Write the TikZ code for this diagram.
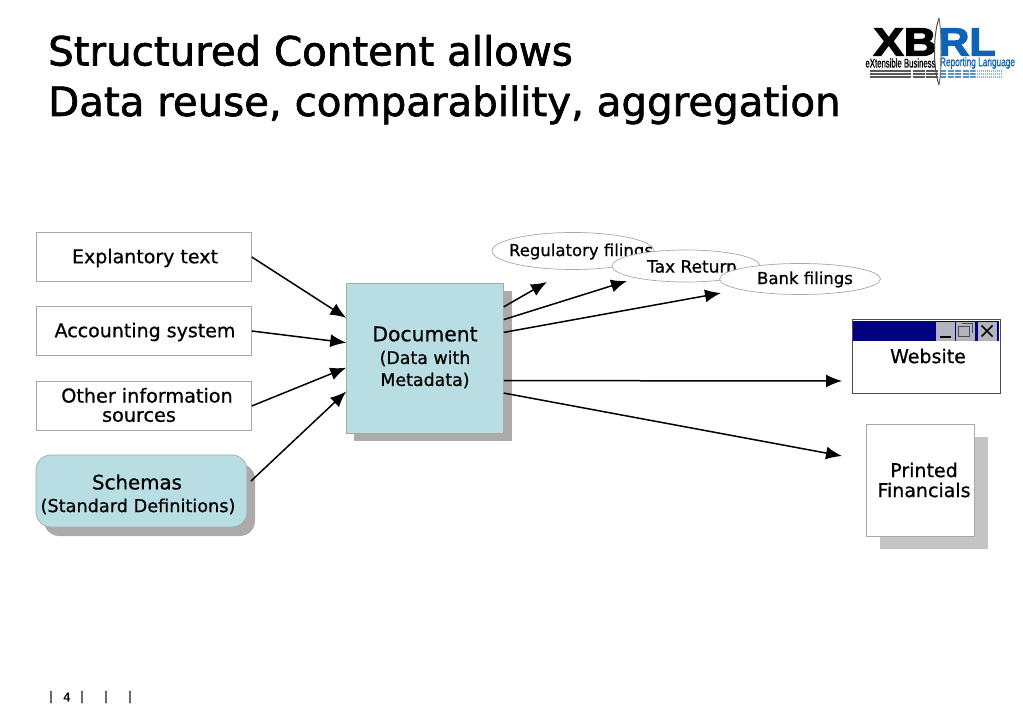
\documentclass[tikz,border=0pt]{standalone}
\usepackage{fontspec}
\setmainfont[FakeBold=0.7]{DejaVu Sans}
\newfontfamily\titlefont[FakeBold=1.6]{DejaVu Sans}
\newfontfamily\logofont[FakeBold=1.5,BoldFeatures={FakeBold=3}]{Liberation Sans}
\usetikzlibrary{arrows.meta,shapes.geometric}
\definecolor{paleblue}{HTML}{B8DEE4}
\definecolor{shadowgrey}{HTML}{ABABAB}
\definecolor{shadowlight}{HTML}{C4C4C4}
\definecolor{edgegrey}{HTML}{A8A8A8}
\definecolor{navybar}{HTML}{000080}
\definecolor{btn}{HTML}{B4B4C0}
\definecolor{xblue}{HTML}{0F63B4}
\newcommand{\fs}[1]{\fontsize{#1}{#1}\selectfont}
\tikzset{
  x=1pt,y=-1pt,
  box/.style={draw=edgegrey,line width=.7pt,fill=white,minimum width=215.5pt,minimum height=49.5pt,outer sep=0pt,inner sep=0pt},
  lab/.style={inner sep=0pt,align=center,text=black},
  oval/.style={ellipse,draw=edgegrey,line width=.7pt,fill=white,inner sep=0pt,outer sep=0pt},
  arr/.style={draw=black,line width=1.5pt,-{Latex[length=16pt,width=13pt]}},
  winbtn/.style={draw=white!70!black,line width=.6pt,fill=btn,minimum width=18pt,minimum height=18pt,inner sep=0pt},
  stripe/.style={line width=1.3pt},
}
\begin{document}
\begin{tikzpicture}
\useasboundingbox (0,0) rectangle (1023,708);
% title
\node[lab,anchor=base west,font=\titlefont\fs{40.3}] (t1) at (48,65.5) {Structured Content allows};
\node[lab,anchor=base west,font=\titlefont\fs{40.3}] (t2) at (48,116) {Data reuse, comparability, aggregation};
% left boxes
\node[box] (expl) at (144,257) {};
\node[lab,font=\fs{19}] (explt) at (145,258) {Explantory text};
\node[box] (acc) at (144,331) {};
\node[lab,font=\fs{19}] (acct) at (145,332) {Accounting system};
\node[box] (other) at (144,406) {};
\node[lab,font=\fs{19.2}] (othert) at (147,405) {Other information\\[0pt]sources\hspace*{16pt}};
\fill[shadowgrey,rounded corners=15pt] (44,464) rectangle (255,536);
\node[draw=edgegrey,line width=.7pt,fill=paleblue,rounded corners=15pt,minimum width=211pt,minimum height=72pt,inner sep=0pt,outer sep=0pt] (schema) at (141.5,491) {};
\node[lab,font=\fs{19.8}] (schemat) at (137,482) {Schemas};
\node[lab,font=\fs{17.7}] (schemas) at (138,506.5) {(Standard Definitions)};
% document
\fill[shadowgrey] (354,291) rectangle (512,441);
\node[draw=edgegrey,line width=.7pt,fill=paleblue,minimum width=157.5pt,minimum height=150pt,inner sep=0pt,outer sep=0pt] (doc) at (425,358) {};
\node[lab,font=\fs{20.3}] (doct) at (425,334) {Document};
\node[lab,font=\fs{17.4}] (docs) at (425,358.5) {(Data with};
\node[lab,font=\fs{17.4}] (docm) at (425,380.5) {Metadata)};
% ovals
\node[oval,minimum width=162pt,minimum height=37pt] (reg) at (573,251) {};
\node[lab,font=\fs{16.5}] (regt) at (581,251.5) {Regulatory filings};
\node[oval,minimum width=148pt,minimum height=32pt] (tax) at (686,266) {};
\node[lab,font=\fs{17}] (taxt) at (692,266.5) {Tax Return};
\node[oval,minimum width=161pt,minimum height=31pt] (bank) at (800,279) {};
\node[lab,font=\fs{16.5}] (bankt) at (805,279.5) {Bank filings};
% website
\node[draw=black!70,line width=1pt,fill=white,minimum width=148pt,minimum height=74pt,inner sep=0pt,outer sep=0pt] (web) at (926,357) {};
\fill[navybar] (853,321) rectangle (999,341);
\node[winbtn] (bmin) at (945.5,331) {};
\node[winbtn] (bres) at (965.5,331) {};
\node[winbtn] (bclo) at (987,331) {};
\draw[line width=1.5pt] (940,337) -- (951,337);
\draw[line width=1pt,black!70] (958,326.5) rectangle (969,337);
\draw[line width=1pt,black!70] (962,324) -- (972,324) -- (972,333);
\draw[line width=1.6pt] (981.5,325.5) -- (992.5,336.5) (992.5,325.5) -- (981.5,336.5);
\node[lab,font=\fs{19}] (webt) at (928,356) {Website};
% printed
\fill[shadowlight] (880,437) rectangle (988,549);
\node[draw=edgegrey,line width=.7pt,fill=white,minimum width=108.5pt,minimum height=112.5pt,inner sep=0pt,outer sep=0pt] (print) at (920.5,480.5) {};
\node[lab,font=\fs{19}] (printa) at (924,470) {Printed};
\node[lab,font=\fs{19}] (printb) at (924,490) {Financials};
% free ends
\coordinate (a1) at (547,282);
\coordinate (a2) at (627,281);
\coordinate (a3) at (721,293);
\coordinate (a4) at (842,381);
\coordinate (a5) at (842,456);
\coordinate (s4) at (251,481);
% connectors
\draw[arr] (expl.east) -- (doc.153.7);
\draw[arr] (acc.east) -- (doc.169.25);
\draw[arr] (other.east) -- (doc.187.2);
\draw[arr] (s4) -- (doc.203.9);
\draw[arr] (doc.33.4) -- (a1);
\draw[arr] (doc.26.9) -- (a2);
\draw[arr] (doc.18.9) -- (a3);
\draw[arr] (doc.-16.2) -- (a4);
\draw[arr] (doc.-24.5) -- (a5);
% logo
\node[lab,anchor=center,text=black,font=\logofont\bfseries] (lx) at (905,42) {\resizebox{63pt}{27pt}{XB}};
\node[lab,anchor=center,text=xblue,font=\logofont\bfseries] (lr) at (967,42) {\resizebox{57pt}{27pt}{RL}};
\node[lab,anchor=center,text=black,font=\logofont] (ls1) at (900.5,63) {\resizebox{70pt}{9pt}{eXtensible Business}};
\node[lab,anchor=center,text=xblue,font=\logofont] (ls2) at (977.5,63) {\resizebox{75pt}{9pt}{Reporting Language}};
\draw[stripe,black!65] (870,71) -- (911,71) (913,71) -- (925,71) (926,71) -- (938,71)
  (870,74) -- (911,74) (913,74) -- (925,74) (926,74) -- (938,74)
  (870,77) -- (911,77) (913,77) -- (925,77) (926,77) -- (938,77);
\draw[stripe,xblue!70,dash pattern=on 6pt off 1.5pt] (940,71) -- (975,71) (940,74) -- (975,74) (940,77) -- (975,77);
\draw[stripe,xblue!50,dash pattern=on 1pt off 1pt] (975,71) -- (1003,71) (975,74) -- (1003,74) (975,77) -- (1003,77);
\draw[line width=1pt,black!70] (939,18) .. controls (933,35) and (933,68) .. (939,85);
\draw[line width=1pt,black!55] (939,18) .. controls (942,35) and (942,68) .. (939,85);
% footer
\node[lab,font=\fs{12}] (f1) at (51,697) {|};
\node[lab,font=\fs{12}] (f2) at (67,697) {4};
\node[lab,font=\fs{12}] (f3) at (82,697) {|};
\node[lab,font=\fs{12}] (f4) at (106,697) {|};
\node[lab,font=\fs{12}] (f5) at (130,697) {|};
\end{tikzpicture}
\end{document}
